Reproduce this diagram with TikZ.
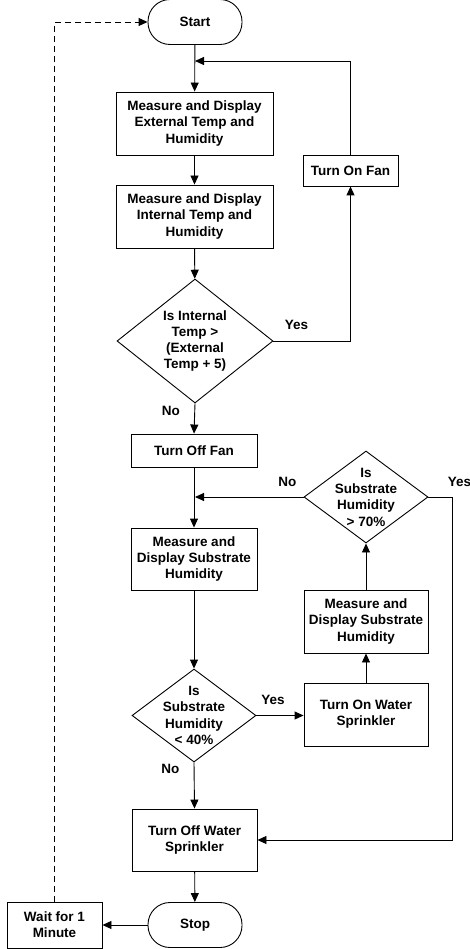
\documentclass[tikz,border=0pt]{standalone}
\usepackage{fontspec}
\setmainfont{Liberation Sans}
\usetikzlibrary{shapes.geometric,arrows.meta}

\begin{document}
\begin{tikzpicture}[x=1pt, y=-1pt, line width=0.9pt,
        font=\fontsize{13.5}{16.3}\selectfont\bfseries,
        >={Triangle[length=9pt,width=8pt]},
        box/.style={draw, rectangle, align=center, inner sep=0pt},
        term/.style={draw, rectangle, rounded corners=22pt, minimum width=94pt, minimum height=45pt},
        decision/.style={draw, diamond, inner sep=0pt}]
    \useasboundingbox (0,0) rectangle (470,949);

    \node[term] (start) at (195,22) {Start};
    \node[box, minimum width=157pt, minimum height=63pt] (extm) at (194.5,123.5) {Measure and Display\\External Temp and\\Humidity};
    \node[box, minimum width=157pt, minimum height=63pt] (intm) at (194.5,216.5) {Measure and Display\\Internal Temp and\\Humidity};
    \node[box, minimum width=95pt, minimum height=31pt] (fanon) at (350.5,170.5) {Turn On Fan};
    \node[decision, minimum width=156pt, minimum height=124pt,
          label={[align=center]center:Is Internal\\Temp >\\(External\\Temp + 5)}] (tempq) at (195,341) {};
    \node[box, minimum width=126pt, minimum height=33pt] (fanoff) at (194,450.5) {Turn Off Fan};
    \node[box, minimum width=126pt, minimum height=62pt] (subm) at (194,559) {Measure and\\Display Substrate\\Humidity};
    \node[decision, minimum width=124pt, minimum height=93pt,
          label={[align=center]center:Is\\Substrate\\Humidity\\< 40\%}] (lowq) at (194,715.5) {};
    \node[box, minimum width=124pt, minimum height=63pt] (wateron) at (366,714.5) {Turn On Water\\Sprinkler};
    \node[box, minimum width=124pt, minimum height=63pt] (subm2) at (366,621.5) {Measure and\\Display Substrate\\Humidity};
    \node[decision, minimum width=124pt, minimum height=92pt,
          label={[align=center]center:Is\\Substrate\\Humidity\\> 70\%}] (highq) at (366,497) {};
    \node[box, minimum width=125pt, minimum height=62pt] (wateroff) at (194.5,840) {Turn Off Water\\Sprinkler};
    \node[term] (stop) at (195,925) {Stop};
    \node[box, minimum width=95pt, minimum height=46pt] (wait) at (54.5,925) {Wait for 1\\Minute};

    \coordinate (m1) at (195,61);
    \coordinate (m2) at (195,497);
    \coordinate (c1) at (452,497);

    \draw[->] (start) -- (extm);
    \draw[->] (extm) -- (intm);
    \draw[->] (intm) -- (tempq);
    \draw[->] (tempq.east) -| node[pos=0.15, above=7.5pt] {Yes} (fanon.south);
    \draw[->] (fanon.north) |- (m1);
    \draw[->] (tempq.south) -- node[pos=0.26, left=11pt] {No} (fanoff.north);
    \draw[->] (fanoff) -- (subm);
    \draw[->] (highq.west) -- node[pos=0.15, above=7pt] {No} (m2);
    \draw (highq.east) -- (c1) node[anchor=south west, xshift=-8pt, yshift=7pt] {Yes};
    \draw[->] (c1) |- (wateroff.east);
    \draw[->] (subm) -- (lowq);
    \draw[->] (lowq.east) -- node[pos=0.35, above=7.5pt] {Yes} (lowq.east -| wateron.west);
    \draw[->] (wateron) -- (subm2);
    \draw[->] (subm2) -- (highq);
    \draw[->] (lowq.south) -- node[pos=0.14, left=11pt] {No} (wateroff.north);
    \draw[->] (wateroff) -- (stop);
    \draw[->] (stop) -- (wait);
    \draw[->, dash pattern=on 6pt off 4pt] (wait.north) |- (start.west);

\end{tikzpicture}
\end{document}
